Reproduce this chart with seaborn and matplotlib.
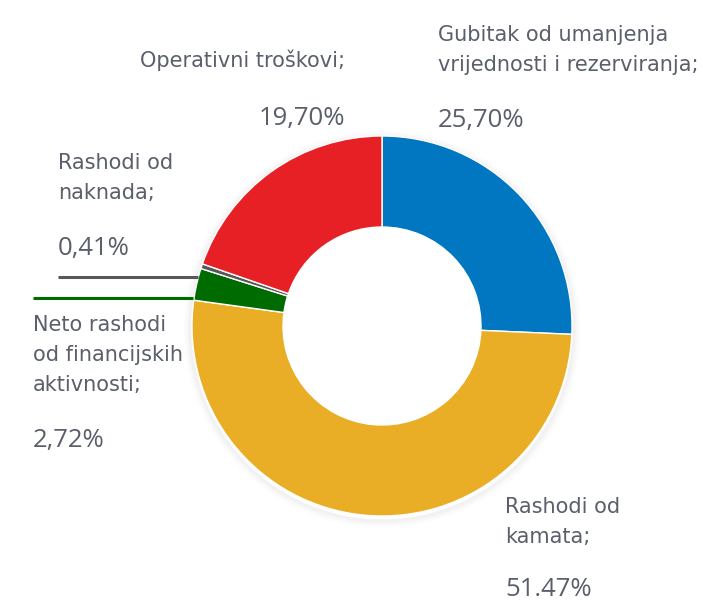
import matplotlib
matplotlib.use("Agg")
import matplotlib.pyplot as plt
from matplotlib.patches import Circle
import seaborn as sns

categories = ["Gubitak od umanjenja\nvrijednosti i rezerviranja;", "Rashodi od\nkamata;",
              "Neto rashodi\nod financijskih\naktivnosti;", "Rashodi od\nnaknada;",
              "Operativni troškovi;"]
values = [25.70, 51.47, 2.72, 0.41, 19.70]
value_labels = ["25,70%", "51.47%", "2,72%", "0,41%", "19,70%"]
colors = ["#0077c0", "#e9ae26", "#006b00", "#55595c", "#e62024"]

sns.set_theme(style="white")
plt.rcParams['font.family'] = ['Open Sans', 'DejaVu Sans']

W, H = 703, 603
fig = plt.figure(figsize=(W / 100, H / 100), dpi=100)
ax = fig.add_axes([0, 0, 1, 1])
ax.set_xlim(0, W)
ax.set_ylim(0, H)
ax.set_aspect('equal')
ax.axis('off')

cx, cy, R = 382, H - 326, 190

for k in range(8):
    ax.add_patch(Circle((cx, cy - 3), R + 1 + k, facecolor='none', edgecolor='#000000',
                        alpha=0.035 * (1 - k / 8), lw=1.2, zorder=0))

ax.pie(values, colors=colors, startangle=90, counterclock=False, center=(cx, cy), radius=R,
       wedgeprops=dict(width=91, edgecolor='white', linewidth=1.0))
ax.set_xlim(0, W)
ax.set_ylim(0, H)

tc = "#5a5f6b"
fs_l, fs_v = 15, 18.5
lab_font = ['DejaVu Sans']
pos = {
    0: (438, 35, 'left', 120),
    1: (505, 507, 'left', 590),
    2: (33, 325, 'left', 440),
    3: (58, 163, 'left', 248),
    4: (345, 60, 'right', 118),
}
for i, (cat, vl) in enumerate(zip(categories, value_labels)):
    x, y0, ha, yv = pos[i]
    for j, line in enumerate(cat.split("\n")):
        ax.text(x, H - (y0 + 30 * j), line, ha=ha, va='center', fontsize=fs_l, color=tc,
                family=lab_font)
    ax.text(x, H - yv, vl, ha=ha, va='center', fontsize=fs_v, color=tc)

ax.plot([58, 198], [H - 277, H - 277], color="#55595c", lw=2.2, solid_capstyle='butt')
ax.plot([33, 193], [H - 298, H - 298], color="#006b00", lw=2.2, solid_capstyle='butt')

fig.savefig("out.png", dpi=100, facecolor='white')
